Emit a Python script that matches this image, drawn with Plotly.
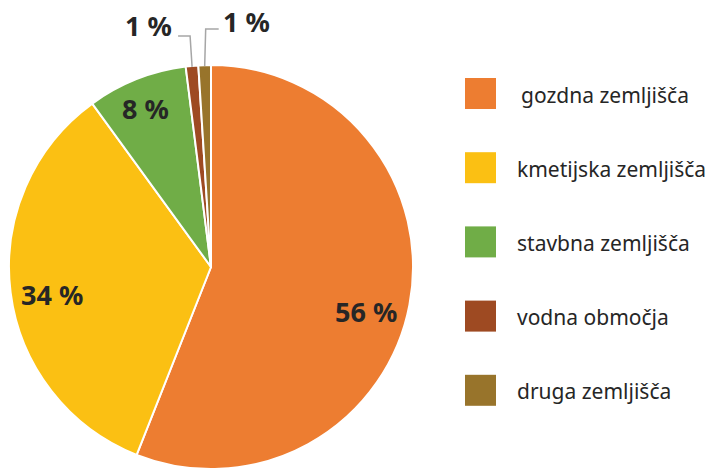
import math
import plotly.graph_objects as go

categories = ["gozdna zemljišča", "kmetijska zemljišča", "stavbna zemljišča", "vodna območja", "druga zemljišča"]
values = [56, 34, 8, 1, 1]
colors = ["#ED7D31", "#FBC013", "#70AD47", "#9E4A22", "#98742B"]
# label placement style (radius fraction, angular nudge in degrees)
label_r = [0.8, 0.8, 0.85, 1.0, 1.0]
label_nudge = [5, -2.5, -1, 0, 0]

W, H = 715, 471
# pie geometry in pixels
CX, CY, R = 211, 267, 202

def px(x):
    return x / W

def py(y):
    return 1 - y / H

fig = go.Figure(go.Pie(
    labels=categories, values=values, sort=False, direction="clockwise", rotation=0,
    marker=dict(colors=colors, line=dict(color="white", width=2)),
    textinfo="none", hoverinfo="label+percent", showlegend=False,
    domain=dict(x=[px(CX - R), px(CX + R)], y=[py(CY + R), py(CY - R)]),
))

annotations = []
shapes = []
total = sum(values)
cum = 0
label_font = dict(family="Noto Sans", size=27, color="#262626")
for i, v in enumerate(values):
    mid = (cum + v / 2) / total * 2 * math.pi
    cum += v
    pct = f"{round(v / total * 100)} %"
    if v / total >= 0.05:
        a = mid + math.radians(label_nudge[i])
        sx, sy = math.sin(a), -math.cos(a)
        f = label_r[i]
        annotations.append(dict(x=px(CX + f * R * sx), y=py(CY + f * R * sy), xref="paper", yref="paper",
                                xanchor="center", yanchor="middle",
                                text=f"<b>{pct}</b>", showarrow=False, font=label_font))
    else:
        sx, sy = math.sin(mid), -math.cos(mid)
        ex, ey = CX + (R - 1) * sx, CY + (R - 1) * sy
        left = sx < -0.06
        ly = 36 if left else 29
        lx = ex - 14 if left else ex + 14
        shapes.append(dict(type="path", xref="paper", yref="paper",
                           path=f"M {px(ex)} {py(ey)} L {px(ex + (-2 if left else 1))} {py(ly)} L {px(lx)} {py(ly)}",
                           line=dict(color="#A6A6A6", width=1.5)))
        annotations.append(dict(x=px(lx + (-4 if left else 2)), y=py(ly - 10 if left else ly - 7), xref="paper", yref="paper",
                                xanchor="right" if left else "left", yanchor="middle",
                                text=f"<b>{pct}</b>", showarrow=False, font=label_font))

# legend
for i, (c, col) in enumerate(zip(categories, colors)):
    cy = 93.5 + i * 74.2
    shapes.append(dict(type="rect", xref="paper", yref="paper", x0=px(465), x1=px(496),
                       y0=py(cy - 15.5), y1=py(cy + 15.5), fillcolor=col, line=dict(width=0)))
    annotations.append(dict(x=px(515 + (4 if i == 0 else 0)), y=py(cy + 1), xref="paper", yref="paper",
                            xanchor="left", yanchor="middle", text=c, showarrow=False,
                            font=dict(family="Noto Sans", size=21, color="#262626")))

fig.update_layout(width=W, height=H, margin=dict(l=0, r=0, t=0, b=0),
                  paper_bgcolor="white", plot_bgcolor="white",
                  shapes=shapes, annotations=annotations)
fig.write_html("out.html", config=dict(displayModeBar=False),
               post_script="document.body.style.margin='0';document.body.style.overflow='hidden';")
